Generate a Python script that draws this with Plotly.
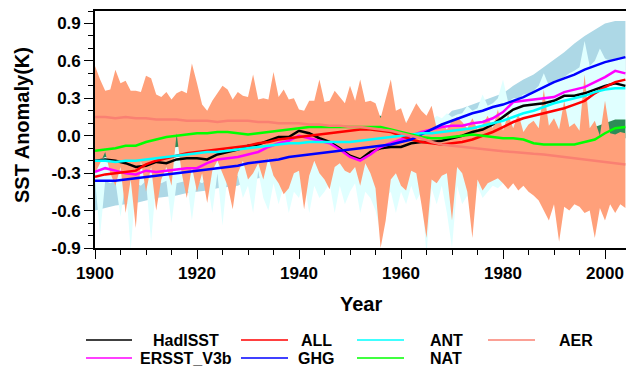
import plotly.graph_objects as go

# ---------------- data ----------------
YEARS = list(range(1900, 2005))          # yearly (spread bands)
YEARS2 = list(range(1900, 2005, 2))      # 2-yearly (smoothed curves)

HADISST = [-0.20, -0.19, -0.20, -0.22, -0.25, -0.24, -0.21, -0.22, -0.19, -0.18,
           -0.18, -0.19, -0.15, -0.13, -0.11, -0.08, -0.07, -0.04, -0.01, -0.01,
           0.04, 0.02, -0.02, -0.05, -0.10, -0.16, -0.19, -0.13, -0.10, -0.09,
           -0.09, -0.06, -0.05, -0.05, -0.04, -0.02, 0.00, 0.03, 0.05, 0.09,
           0.15, 0.21, 0.24, 0.25, 0.26, 0.28, 0.32, 0.32, 0.34, 0.37,
           0.40, 0.42, 0.40]
ERSST = [-0.29, -0.26, -0.28, -0.30, -0.31, -0.28, -0.29, -0.28, -0.27, -0.26,
         -0.26, -0.22, -0.19, -0.18, -0.17, -0.15, -0.13, -0.09, -0.06, -0.04,
         0.00, -0.02, -0.04, -0.06, -0.11, -0.17, -0.20, -0.15, -0.09, -0.06,
         -0.03, 0.00, 0.03, 0.05, 0.07, 0.08, 0.08, 0.10, 0.11, 0.14,
         0.19, 0.27, 0.28, 0.29, 0.30, 0.31, 0.35, 0.37, 0.39, 0.43,
         0.47, 0.52, 0.50]
ALL = [-0.33, -0.31, -0.30, -0.29, -0.28, -0.23, -0.20, -0.18, -0.16, -0.14,
       -0.13, -0.12, -0.11, -0.10, -0.09, -0.08, -0.06, -0.05, -0.03, -0.02,
       -0.01, 0.00, 0.01, 0.02, 0.03, 0.04, 0.05, 0.05, 0.04, 0.03,
       0.00, -0.03, -0.05, -0.06, -0.07, -0.06, -0.05, -0.03, 0.00, 0.03,
       0.07, 0.11, 0.14, 0.16, 0.18, 0.20, 0.22, 0.25, 0.28, 0.34,
       0.39, 0.43, 0.45]
GHG = [-0.36, -0.36, -0.36, -0.35, -0.34, -0.33, -0.32, -0.31, -0.30, -0.29,
       -0.28, -0.27, -0.26, -0.25, -0.24, -0.22, -0.21, -0.20, -0.19, -0.17,
       -0.16, -0.15, -0.14, -0.13, -0.12, -0.11, -0.10, -0.09, -0.08, -0.07,
       -0.05, -0.03, 0.01, 0.05, 0.09, 0.12, 0.15, 0.18, 0.20, 0.23,
       0.25, 0.28, 0.31, 0.35, 0.39, 0.43, 0.46, 0.49, 0.53, 0.56,
       0.59, 0.61, 0.63]
ANT = [-0.20, -0.20, -0.21, -0.20, -0.20, -0.19, -0.18, -0.17, -0.16, -0.15,
       -0.14, -0.13, -0.13, -0.12, -0.11, -0.10, -0.09, -0.08, -0.07, -0.06,
       -0.06, -0.05, -0.05, -0.05, -0.05, -0.05, -0.04, -0.03, -0.02, -0.01,
       0.00, 0.01, 0.02, 0.02, 0.03, 0.04, 0.05, 0.06, 0.08, 0.10,
       0.12, 0.15, 0.18, 0.20, 0.23, 0.26, 0.28, 0.30, 0.32, 0.35,
       0.37, 0.38, 0.38]
NAT = [-0.12, -0.11, -0.10, -0.08, -0.08, -0.05, -0.03, -0.01, 0.00, 0.01,
       0.02, 0.02, 0.03, 0.03, 0.02, 0.01, 0.02, 0.03, 0.04, 0.05,
       0.06, 0.07, 0.07, 0.07, 0.07, 0.07, 0.07, 0.07, 0.07, 0.05,
       0.03, 0.01, -0.01, -0.02, -0.02, -0.01, 0.00, 0.01, 0.00, -0.01,
       -0.02, -0.02, -0.03, -0.06, -0.07, -0.07, -0.07, -0.07, -0.05, -0.03,
       0.02, 0.06, 0.07]
AER = [0.15, 0.15, 0.14, 0.15, 0.14, 0.14, 0.13, 0.13, 0.13, 0.12,
       0.12, 0.12, 0.11, 0.12, 0.12, 0.12, 0.11, 0.11, 0.10, 0.10,
       0.10, 0.09, 0.09, 0.08, 0.08, 0.07, 0.07, 0.06, 0.05, 0.04,
       0.02, 0.00, -0.02, -0.05, -0.07, -0.08, -0.09, -0.10, -0.11, -0.12,
       -0.125, -0.13, -0.14, -0.145, -0.15, -0.16, -0.17, -0.18, -0.19, -0.20,
       -0.21, -0.22, -0.23]

# spread bands (2-yearly)
GHG_HI = [-0.33, -0.33, -0.33, -0.32, -0.31, -0.30, -0.29, -0.28, -0.27, -0.26,
          -0.25, -0.24, -0.23, -0.22, -0.21, -0.19, -0.18, -0.17, -0.16, -0.14,
          -0.13, -0.12, -0.11, -0.10, -0.09, -0.08, -0.07, -0.06, -0.04, -0.02,
          0.02, 0.04, 0.07, 0.09, 0.12, 0.20, 0.22, 0.25, 0.28, 0.31,
          0.34, 0.40, 0.45, 0.49, 0.55, 0.61, 0.67, 0.74, 0.80, 0.85,
          0.90, 0.92, 0.92]
GHG_LO = [-0.60, -0.58, -0.56, -0.55, -0.54, -0.52, -0.50, -0.49, -0.48, -0.46,
          -0.45, -0.44, -0.42, -0.41, -0.40, -0.36, -0.34, -0.33, -0.32, -0.30,
          -0.29, -0.28, -0.27, -0.26, -0.25, -0.24, -0.23, -0.22, -0.20, -0.18,
          -0.16, -0.14, -0.10, -0.07, -0.04, -0.01, 0.02, 0.05, 0.08, 0.11,
          0.14, 0.17, 0.20, 0.23, 0.26, 0.29, 0.32, 0.35, 0.38, 0.41,
          0.44, 0.46, 0.48]
NAT_HI = [-0.03, -0.02, -0.01, 0.01, 0.01, 0.04, 0.06, 0.08, 0.09, 0.10,
          0.11, 0.11, 0.12, 0.12, 0.11, 0.10, 0.11, 0.12, 0.13, 0.14,
          0.15, 0.16, 0.16, 0.16, 0.16, 0.16, 0.16, 0.16, 0.16, 0.12,
          0.06, 0.04, 0.02, 0.01, 0.01, 0.02, 0.03, 0.04, 0.03, 0.02,
          0.01, 0.01, 0.00, -0.03, -0.04, -0.04, -0.04, -0.03, 0.03, 0.07,
          0.10, 0.13, 0.13]
NAT_LO = [-0.21, -0.17, -0.19, -0.17, -0.17, -0.14, -0.12, -0.10, -0.09, -0.08,
          -0.07, -0.07, -0.06, -0.06, -0.07, -0.08, -0.07, -0.06, -0.05, -0.04,
          -0.03, -0.02, -0.02, -0.02, -0.02, -0.02, -0.02, -0.02, -0.02, -0.04,
          -0.06, -0.08, -0.10, -0.11, -0.11, -0.10, -0.09, -0.08, -0.09, -0.10,
          -0.11, -0.11, -0.12, -0.15, -0.16, -0.16, -0.16, -0.16, -0.14, -0.12,
          -0.07, -0.03, -0.02]

# spread bands (yearly)
ANT_HI = [-0.10, -0.11, -0.10, -0.12, -0.11, -0.10, -0.11, -0.10, -0.11, -0.09,
          -0.10, -0.09, -0.08, -0.09, -0.07, -0.08, -0.06, -0.07, -0.05, -0.06,
          -0.04, -0.05, -0.03, -0.04, -0.03, -0.02, -0.03, -0.01, -0.02, 0.00,
          -0.01, 0.00, 0.01, 0.00, 0.02, 0.01, 0.03, 0.02, 0.04, 0.03,
          0.04, 0.05, 0.04, 0.05, 0.05, 0.06, 0.05, 0.06, 0.06, 0.07,
          0.06, 0.07, 0.07, 0.08, 0.07, 0.08, 0.08, 0.10, 0.08, 0.10,
          0.08, 0.12, 0.10, 0.12, 0.10, 0.14, 0.12, 0.16, 0.14, 0.18,
          0.15, 0.17, 0.18, 0.24, 0.20, 0.22, 0.33, 0.24, 0.26, 0.30,
          0.45, 0.27, 0.30, 0.30, 0.33, 0.34, 0.36, 0.40, 0.50, 0.40,
          0.44, 0.45, 0.47, 0.50, 0.52, 0.55, 0.76, 0.56, 0.60, 0.70,
          0.62, 0.60, 0.62, 0.63, 0.62]
ANT_LO = [-0.35, -0.80, -0.36, -0.38, -0.36, -0.65, -0.37, -0.92, -0.38, -0.40,
          -0.36, -0.85, -0.37, -0.38, -0.36, -0.70, -0.38, -0.37, -0.36, -0.68,
          -0.36, -0.38, -0.35, -0.62, -0.30, -0.72, -0.30, -0.34, -0.32, -0.50,
          -0.40, -0.62, -0.28, -0.50, -0.60, -0.38, -0.55, -0.40, -0.62, -0.45,
          -0.50, -0.35, -0.62, -0.40, -0.50, -0.45, -0.38, -0.62, -0.40, -0.55,
          -0.45, -0.38, -0.62, -0.45, -0.50, -0.60, -0.78, -0.50, -0.45, -0.62,
          -0.45, -0.55, -0.40, -0.52, -0.45, -0.95, -0.42, -0.55, -0.40, -0.62,
          -0.90, -0.40, -0.55, -0.48, -0.60, -0.40, -0.50, -0.45, -0.40, -0.42,
          -0.38, -0.40, -0.36, -0.35, -0.34, -0.35, -0.33, -0.34, -0.32, -0.33,
          -0.32, -0.30, -0.32, -0.30, -0.31, -0.30, -0.29, -0.30, -0.28, -0.29,
          -0.28, -0.27, -0.28, -0.27, -0.26]
AER_HI = [0.56, 0.45, 0.36, 0.37, 0.53, 0.42, 0.44, 0.36, 0.36, 0.35,
          0.48, 0.46, 0.33, 0.31, 0.35, 0.29, 0.34, 0.36, 0.34, 0.58,
          0.42, 0.25, 0.20, 0.28, 0.34, 0.40, 0.37, 0.29, 0.35, 0.32,
          0.31, 0.49, 0.29, 0.30, 0.29, 0.51, 0.31, 0.37, 0.29, 0.30,
          0.21, 0.20, 0.28, 0.28, 0.45, 0.27, 0.28, 0.36, 0.31, 0.26,
          0.40, 0.28, 0.45, 0.27, 0.28, 0.26, 0.14, 0.30, 0.45, 0.20,
          0.22, 0.10, 0.18, 0.26, 0.20, 0.16, 0.24, 0.06, 0.10, 0.05,
          0.12, 0.15, 0.11, 0.06, 0.14, 0.05, 0.09, 0.16, 0.06, 0.21,
          0.04, 0.17, 0.06, 0.18, 0.03, 0.09, 0.12, 0.06, 0.37, 0.08,
          0.14, 0.05, 0.28, 0.07, 0.10, 0.04, 0.49, 0.06, 0.12, 0.00,
          0.28, 0.02, 0.01, 0.03, 0.02]
AER_LO = [-0.30, -0.22, -0.13, -0.30, -0.40, -0.25, -0.62, -0.35, -0.74, -0.20,
          -0.45, -0.25, -0.60, -0.35, -0.25, -0.40, 0.02, -0.30, -0.50, -0.25,
          -0.45, -0.30, -0.54, -0.28, -0.20, -0.30, -0.40, -0.59, -0.30, -0.20,
          -0.35, -0.30, -0.22, -0.35, -0.18, -0.32, -0.38, -0.47, -0.42, -0.30,
          -0.28, -0.59, -0.32, -0.20, -0.30, -0.35, -0.43, -0.25, -0.22, -0.28,
          -0.30, -0.25, -0.40, -0.22, -0.30, -0.42, -0.90, -0.68, -0.35, -0.30,
          -0.40, -0.44, -0.28, -0.30, -0.55, -0.82, -0.35, -0.38, -0.32, -0.30,
          -0.68, -0.25, -0.30, -0.45, -0.82, -0.35, -0.44, -0.38, -0.36, -0.34,
          -0.38, -0.43, -0.38, -0.44, -0.40, -0.45, -0.48, -0.52, -0.60, -0.68,
          -0.55, -0.85, -0.57, -0.60, -0.55, -0.57, -0.62, -0.60, -0.82, -0.58,
          -0.68, -0.55, -0.62, -0.55, -0.58]

SERIES_NAMES = ["HadISST", "ERSST_V3b", "ALL", "GHG", "ANT", "NAT", "AER"]
SERIES_COLORS = ["#000000", "#FF00FF", "#FF0000", "#0000FF", "#00FFFF", "#00FF00", "#FA8072"]
SERIES_VALUES = [HADISST, ERSST, ALL, GHG, ANT, NAT, AER]

Y_TICKS = [-0.9, -0.6, -0.3, 0.0, 0.3, 0.6, 0.9]
Y_TICKTEXT = ["-0.9", "-0.6", "-0.3", "0.0", "0.3", "0.6", "0.9"]
X_TICKS = [1900, 1920, 1940, 1960, 1980, 2000]

# ---------------- figure ----------------
W, H = 626, 371
L, R, T, B = 95, 626, 11, 248   # plot area in pixels


def px(xpix):
    return (xpix - L) / (R - L)


def py(ypix):
    return (B - ypix) / (B - T)


fig = go.Figure()


def band(x, hi, lo, color):
    fig.add_trace(go.Scatter(
        x=list(x) + list(x)[::-1], y=list(hi) + list(lo)[::-1],
        fill="toself", fillcolor=color, mode="lines",
        line=dict(width=0, color=color), hoverinfo="skip", showlegend=False))


band(YEARS2, GHG_HI, GHG_LO, "#ADD8E6")
band(YEARS, ANT_HI, ANT_LO, "#E0FFFF")
band(YEARS2, NAT_HI, NAT_LO, "#2E8B57")
band(YEARS, AER_HI, AER_LO, "#FFA07A")

for name, col, vals in zip(SERIES_NAMES, SERIES_COLORS, SERIES_VALUES):
    fig.add_trace(go.Scatter(x=YEARS2, y=vals, mode="lines", name=name,
                             line=dict(color=col, width=2.5), showlegend=False))

FONT = "Liberation Sans, Arial, Helvetica, sans-serif"

fig.update_layout(
    width=W, height=H,
    margin=dict(l=L, r=W - R, t=T, b=H - B, pad=0),
    paper_bgcolor="white", plot_bgcolor="white",
    font=dict(family=FONT, color="black"),
    xaxis=dict(range=[1900, 1900 + (R - L) / 5.1], tickmode="array", tickvals=X_TICKS,
               ticks="outside", ticklen=9, tickwidth=1.3, tickcolor="black",
               showline=True, linecolor="black", linewidth=1.6, mirror=True,
               showgrid=False, zeroline=False,
               tickfont=dict(family=FONT, size=17, weight="bold"),
               minor=dict(tickmode="array", tickvals=list(range(1905, 2005, 5)),
                          ticks="outside", ticklen=5, tickwidth=1, tickcolor="black")),
    yaxis=dict(range=[-0.9, 1.0], tickmode="array", tickvals=Y_TICKS, ticktext=Y_TICKTEXT,
               ticks="outside", ticklen=9, tickwidth=1.3, tickcolor="black",
               showline=True, linecolor="black", linewidth=1.6,
               showgrid=False, zeroline=False,
               tickfont=dict(family=FONT, size=17, weight="bold"),
               minor=dict(tickmode="array",
                          tickvals=[round(-0.9 + 0.1 * i, 1) for i in range(20)],
                          ticks="outside", ticklen=5, tickwidth=1, tickcolor="black")),
)

annotations = [
    dict(text="<b>Year</b>", x=0.5, y=py(304), xref="paper", yref="paper",
         showarrow=False, font=dict(family=FONT, size=20), xanchor="center", yanchor="middle"),
    dict(text="<b>SST Anomaly(K)</b>", x=px(22), y=py(125), xref="paper", yref="paper",
         showarrow=False, textangle=-90, font=dict(family=FONT, size=20),
         xanchor="center", yanchor="middle"),
]

# legend (custom, NCL-like layout)
LEG_ORDER = [("HadISST", 0, 0), ("ALL", 1, 0), ("ANT", 2, 0), ("AER", 3, 0),
             ("ERSST_V3b", 0, 1), ("GHG", 1, 1), ("NAT", 2, 1)]
COL_LINE_X = [(86, 132), (241, 288), (357, 404), (488, 535)]
COL_TEXT_X = [186, 316, 446, 576]
ROW_Y = [340, 358]
shapes = []
for name, c, r in LEG_ORDER:
    col = SERIES_COLORS[SERIES_NAMES.index(name)]
    x0, x1 = COL_LINE_X[c]
    shapes.append(dict(type="line", xref="paper", yref="paper",
                       x0=px(x0), x1=px(x1), y0=py(ROW_Y[r]), y1=py(ROW_Y[r]),
                       line=dict(color=col, width=1.5)))
    annotations.append(dict(text="<b>%s</b>" % name, x=px(COL_TEXT_X[c]), y=py(ROW_Y[r]),
                            xref="paper", yref="paper", showarrow=False,
                            font=dict(family=FONT, size=16),
                            xanchor="center", yanchor="middle"))

fig.update_layout(annotations=annotations, shapes=shapes)
fig.write_html("out.html")
